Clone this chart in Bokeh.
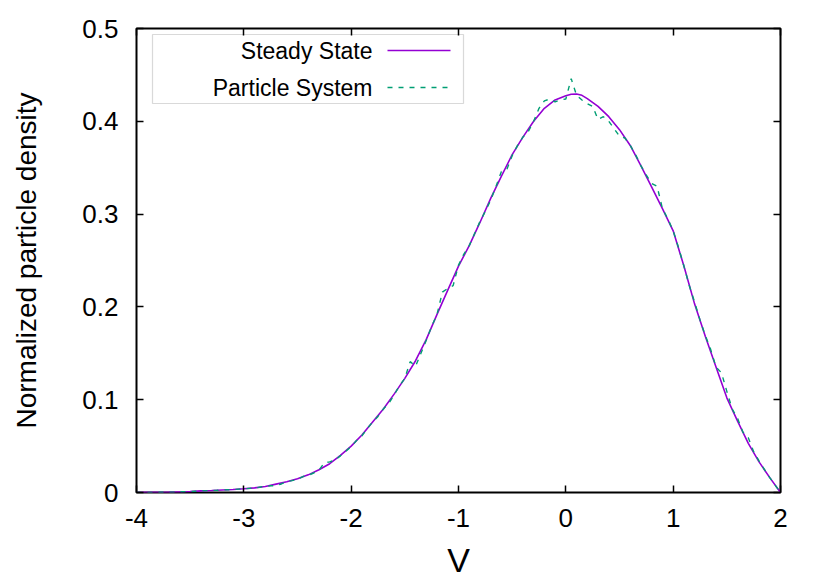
from bokeh.plotting import figure
from bokeh.models import Range1d, LinearAxis, FixedTicker, BoxAnnotation, Label
from bokeh.embed import file_html
from bokeh.resources import INLINE

# ---- data ----
v_steady = [-4.0, -3.9, -3.8, -3.7, -3.6, -3.5, -3.4, -3.3, -3.2, -3.1,
            -3.0, -2.9, -2.8, -2.7, -2.6, -2.5, -2.4, -2.3, -2.2, -2.1,
            -2.0, -1.9, -1.8, -1.7, -1.6, -1.5, -1.4, -1.3, -1.2, -1.1,
            -1.0, -0.9, -0.8, -0.7, -0.6, -0.5, -0.4, -0.3, -0.2, -0.1,
            0.0, 0.05, 0.1, 0.15, 0.2, 0.3, 0.4, 0.5, 0.6, 0.7, 0.8, 0.9,
            1.0, 1.1, 1.2, 1.3, 1.4, 1.5, 1.6, 1.7, 1.8, 1.9, 2.0]
steady = [0.0000, 0.0001, 0.0002, 0.0004, 0.0007, 0.0011, 0.0018, 0.0022, 0.0027, 0.0032,
          0.0040, 0.0050, 0.0065, 0.0090, 0.0115, 0.0148, 0.0190, 0.0245, 0.0310, 0.0400,
          0.0500, 0.0620, 0.0760, 0.0900, 0.1060, 0.1230, 0.1420, 0.1650, 0.1920, 0.2180,
          0.2440, 0.2660, 0.2910, 0.3170, 0.3410, 0.3640, 0.3830, 0.4000, 0.4140, 0.4230,
          0.4275, 0.4292, 0.4295, 0.4280, 0.4245, 0.4160, 0.4050, 0.3910, 0.3740, 0.3520,
          0.3290, 0.3060,
          0.2820, 0.2440, 0.2030, 0.1680, 0.1350, 0.1020, 0.0770, 0.0530, 0.0330, 0.0160, 0.0000]

v_particle = [-4.00, -3.95, -3.90, -3.85, -3.80, -3.75, -3.70, -3.65, -3.60, -3.55,
              -3.50, -3.45, -3.40, -3.35, -3.30, -3.25, -3.20, -3.15, -3.10, -3.05,
              -3.00, -2.95, -2.90, -2.85, -2.80, -2.75, -2.70, -2.65, -2.60, -2.55,
              -2.50, -2.45, -2.40, -2.35, -2.30, -2.25, -2.20, -2.15, -2.10, -2.05,
              -2.00, -1.95, -1.90, -1.85, -1.80, -1.75, -1.70, -1.65, -1.60, -1.55,
              -1.50, -1.45, -1.40, -1.35, -1.30, -1.25, -1.20, -1.15, -1.10, -1.05,
              -1.00, -0.95, -0.90, -0.85, -0.80, -0.75, -0.70, -0.65, -0.60, -0.55,
              -0.50, -0.45, -0.40, -0.35, -0.30, -0.25, -0.20, -0.15, -0.10, -0.05,
              0.00, 0.05, 0.10, 0.15, 0.20, 0.25, 0.30, 0.35, 0.40, 0.45,
              0.50, 0.55, 0.60, 0.65, 0.70, 0.75, 0.80, 0.85, 0.90, 0.95,
              1.00, 1.05, 1.10, 1.15, 1.20, 1.25, 1.30, 1.35, 1.40, 1.45,
              1.50, 1.55, 1.60, 1.65, 1.70, 1.75, 1.80, 1.85, 1.90, 1.95, 2.00]
particle = [0.0000, 0.0000, 0.0001, 0.0001, 0.0002, 0.0003, 0.0004, 0.0005, 0.0007, 0.0009,
            0.0011, 0.0014, 0.0017, 0.0020, 0.0022, 0.0024, 0.0027, 0.0030, 0.0031, 0.0036,
            0.0040, 0.0044, 0.0047, 0.0058, 0.0066, 0.0072, 0.0075, 0.0092, 0.0118, 0.0128,
            0.0140, 0.0172, 0.0185, 0.0210, 0.0240, 0.0320, 0.0330, 0.0350, 0.0395, 0.0445,
            0.0495, 0.0560, 0.0610, 0.0690, 0.0760, 0.0820, 0.0900, 0.0960, 0.1050, 0.1150,
            0.1230, 0.1410, 0.1360, 0.1500, 0.1640, 0.1790, 0.1920, 0.2160, 0.2200, 0.2230,
            0.2450, 0.2570, 0.2660, 0.2790, 0.2920, 0.3030, 0.3150, 0.3300, 0.3460, 0.3480,
            0.3630, 0.3740, 0.3830, 0.3890, 0.4000, 0.4140, 0.4220, 0.4240, 0.4210, 0.4230,
            0.4240, 0.4460, 0.4280, 0.4230, 0.4190, 0.4160, 0.4020, 0.4050, 0.4000, 0.3920,
            0.3840, 0.3820, 0.3740, 0.3640, 0.3520, 0.3420, 0.3330, 0.3300, 0.3060, 0.2950,
            0.2820, 0.2640, 0.2440, 0.2230, 0.2050, 0.1860, 0.1690, 0.1540, 0.1350, 0.1290,
            0.1090, 0.0900, 0.0800, 0.0650, 0.0590, 0.0440, 0.0340, 0.0250, 0.0160, 0.0080, 0.0000]

x_ticks = [-4, -3, -2, -1, 0, 1, 2]
x_tick_labels = ["-4", "-3", "-2", "-1", "0", "1", "2"]
y_ticks = [0, 0.1, 0.2, 0.3, 0.4, 0.5]
y_tick_labels = ["0", "0.1", "0.2", "0.3", "0.4", "0.5"]
series_names = ["Steady State", "Particle System"]
x_label = "V"
y_label = "Normalized particle density"

# ---- style ----
FONT = "Liberation Sans"
C_STEADY = "#9400D3"
C_PART = "#009E73"
X0, X1, Y0, Y1 = -4, 2, 0, 0.5
FW, FH = 644, 464

p = figure(frame_width=FW, frame_height=FH,
           x_range=Range1d(X0, X1), y_range=Range1d(Y0, Y1),
           output_backend="svg", toolbar_location=None,
           min_border_left=136, min_border_top=28,
           min_border_right=50, min_border_bottom=88,
           x_axis_location=None, y_axis_location=None)
p.background_fill_color = "white"
p.border_fill_color = "white"
p.grid.visible = False
p.outline_line_color = "black"
p.outline_line_width = 2


def style_axis(ax, show_labels):
    ax.axis_line_color = None
    ax.major_tick_in = 7
    ax.major_tick_out = 0
    ax.major_tick_line_color = "black"
    ax.major_tick_line_width = 1.5
    ax.minor_tick_line_color = None
    ax.major_label_text_font = FONT
    ax.major_label_text_font_size = "26px"
    ax.major_label_text_color = "black"
    ax.axis_label_text_font = FONT
    ax.axis_label_text_font_style = "normal"
    ax.axis_label_text_color = "black"
    if not show_labels:
        ax.major_label_text_font_size = "0px"
        ax.major_label_text_color = None


xb = LinearAxis(ticker=FixedTicker(ticks=x_ticks))
style_axis(xb, True)
xb.major_label_overrides = {t: s for t, s in zip(x_ticks, x_tick_labels)}
xb.major_label_standoff = 16
xb.axis_label = x_label
xb.axis_label_text_font_size = "34px"
xb.axis_label_standoff = 11
p.add_layout(xb, "below")

yl = LinearAxis(ticker=FixedTicker(ticks=y_ticks))
style_axis(yl, True)
yl.major_label_overrides = {t: s for t, s in zip(y_ticks, y_tick_labels)}
yl.major_label_standoff = 18
yl.axis_label = y_label
yl.axis_label_text_font_size = "28px"
yl.axis_label_standoff = 37
p.add_layout(yl, "left")

xt = LinearAxis(ticker=FixedTicker(ticks=x_ticks))
style_axis(xt, False)
p.add_layout(xt, "above")
yr = LinearAxis(ticker=FixedTicker(ticks=y_ticks))
style_axis(yr, False)
p.add_layout(yr, "right")

# ---- curves ----
p.line(v_steady, steady, line_color=C_STEADY, line_width=1.6)
p.line(v_particle, particle, line_color=C_PART, line_width=1.4, line_dash="5 6")

# ---- legend (gnuplot style: label left, sample right) ----
def dx(px):
    return X0 + px / FW * (X1 - X0)


def dy(py):
    return Y1 - py / FH * (Y1 - Y0)


box = BoxAnnotation(left=dx(16), right=dx(327), top=dy(6), bottom=dy(75),
                    fill_color=None, fill_alpha=0.0,
                    line_color="#808080", line_width=1.2, level="underlay")
p.add_layout(box)

rows = [22, 59]
colors = [C_STEADY, C_PART]
dashes = ["solid", "5 6"]
for name, r, c, d in zip(series_names, rows, colors, dashes):
    p.add_layout(Label(x=dx(236), y=dy(r), text=name, text_align="right",
                       text_baseline="middle", text_font=FONT,
                       text_font_size="23px", text_color="black"))
    p.line([dx(251), dx(314)], [dy(r), dy(r)], line_color=c, line_width=1.4,
           line_dash=d)

open("out.html", "w").write(file_html(p, INLINE))
